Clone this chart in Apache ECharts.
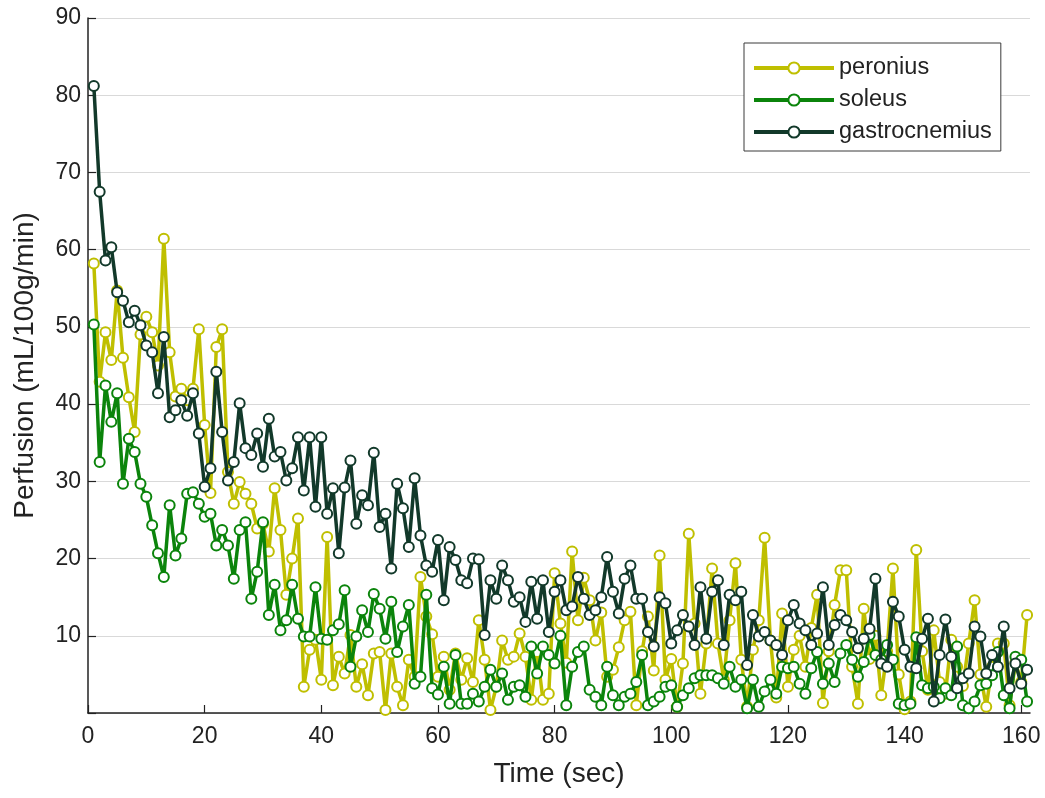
<!DOCTYPE html>
<html>
<head>
<meta charset="utf-8">
<script src="https://cdn.jsdelivr.net/npm/echarts@6/dist/echarts.min.js"></script>
<style>html,body{margin:0;padding:0;background:#fff}#c{width:1045px;height:798px}</style>
</head>
<body>
<div id="c"></div>
<script>
var seriesNames = ['peronius', 'soleus', 'gastrocnemius'];
var xTicks = [0, 20, 40, 60, 80, 100, 120, 140, 160];
var yTicks = [10, 20, 30, 40, 50, 60, 70, 80, 90];

var peronius = [
58.2,42.9,49.3,45.7,54.7,46.0,40.9,36.4,49.0,51.3,
49.3,45.0,61.4,46.7,41.0,42.0,40.5,42.0,49.7,37.3,
28.5,47.4,49.7,31.2,27.1,29.9,28.4,27.1,23.9,24.5,
20.9,29.1,23.7,15.3,20.0,25.2,3.4,8.2,9.5,4.3,
22.8,3.6,7.3,5.1,10.1,3.4,6.3,2.3,7.7,7.9,
0.4,7.7,3.4,1.0,6.9,4.7,17.6,12.5,10.2,4.7,
7.3,3.0,7.7,4.3,7.1,4.0,12.0,6.9,0.4,3.4,
9.4,6.9,7.3,10.3,7.3,1.7,7.9,1.7,2.5,18.1,
11.6,6.5,20.9,12.0,17.5,14.6,9.4,13.0,4.7,5.6,
8.5,12.0,13.1,1.0,8.0,12.5,5.5,20.4,4.3,7.0,
0.8,6.4,23.2,11.6,2.5,9.0,18.7,9.0,4.3,12.0,
19.4,6.9,0.8,8.2,12.0,22.7,9.4,2.0,12.9,3.4,
8.2,10.0,6.0,11.0,15.3,1.3,8.0,14.0,18.5,18.5,
6.0,1.2,13.5,7.0,10.0,2.3,8.0,18.7,5.0,0.5,
1.5,21.1,8.0,3.0,10.7,4.0,2.5,9.5,6.0,3.5,
9.0,14.6,5.0,0.8,6.0,9.0,9.0,1.0,6.5,4.0,
12.7
];

var soleus = [
50.3,32.5,42.4,37.7,41.4,29.7,35.5,33.8,29.7,28.0,
24.3,20.7,17.6,26.9,20.4,22.6,28.4,28.6,27.1,25.4,
25.8,21.7,23.7,21.7,17.4,23.7,24.7,14.8,18.3,24.7,
12.7,16.6,10.7,12.0,16.6,12.2,9.9,9.9,16.3,9.6,
9.5,10.7,11.5,15.9,6.0,9.9,13.3,10.5,15.4,13.5,
9.6,14.4,7.9,11.2,14.0,3.8,4.7,15.3,3.2,2.4,
6.0,1.2,7.5,1.2,1.2,2.5,1.5,3.4,5.6,3.4,
5.1,1.7,3.4,3.6,2.1,8.6,5.1,8.6,7.5,6.4,
10.0,1.0,6.0,7.9,8.6,3.0,2.1,1.0,6.0,2.3,
1.0,2.1,2.5,4.0,7.5,1.0,1.5,2.1,3.4,3.6,
0.8,2.3,3.2,4.5,4.9,4.9,4.9,4.5,3.8,6.0,
3.4,4.3,0.6,4.3,0.8,2.8,4.3,2.5,6.0,5.8,
6.0,3.8,2.5,5.8,7.9,3.8,6.4,4.0,7.7,8.8,
6.9,4.7,6.6,10.1,7.5,6.9,8.8,6.9,1.2,1.0,
1.2,9.8,3.6,3.2,3.4,1.9,3.2,2.3,8.6,1.0,
0.6,1.5,3.6,3.8,4.9,7.9,2.3,0.6,7.3,6.9,
1.5
];

var gastrocnemius = [
81.2,67.5,58.6,60.3,54.5,53.4,50.6,52.1,50.2,47.6,
46.7,41.4,48.7,38.3,39.2,40.5,38.5,41.4,36.2,29.3,
31.7,44.2,36.4,30.1,32.5,40.1,34.3,33.4,36.2,31.9,
38.1,33.2,33.8,30.1,31.7,35.7,28.8,35.7,26.7,35.7,
25.8,29.1,20.7,29.2,32.7,24.5,28.2,26.9,33.7,24.1,
25.8,18.7,29.7,26.5,21.5,30.4,23.0,19.1,18.3,22.4,
14.6,21.5,19.8,17.2,16.8,20.0,19.9,10.1,17.2,14.8,
19.1,17.2,14.4,15.0,11.8,17.0,12.2,17.2,10.5,15.7,
17.2,13.3,13.8,17.6,14.8,12.7,13.3,15.0,20.2,15.7,
12.9,17.4,19.1,14.8,14.8,10.5,8.6,15.0,14.2,9.0,
10.7,12.7,11.2,8.8,16.3,9.6,15.7,17.2,8.8,15.3,
14.6,15.7,6.2,12.7,9.9,10.5,9.4,8.8,7.5,12.0,
14.0,11.6,10.7,8.8,10.3,16.3,8.8,11.4,12.7,12.0,
10.5,8.4,9.6,10.9,17.4,6.4,6.0,14.4,12.5,8.2,
6.0,5.8,9.6,12.2,1.5,7.5,12.1,7.3,3.2,4.5,
5.1,11.2,9.9,5.1,7.5,6.0,11.2,3.2,6.4,3.8,
5.6
];

var colors = ['#bfbf00', '#0b840b', '#12392a'];

function pairs(vals) {
  var out = [];
  for (var i = 0; i < vals.length; i++) out.push([i + 1, vals[i]]);
  return out;
}

var allData = [peronius, soleus, gastrocnemius];
var textColor = '#222222';
var font = 'Liberation Sans, Arial, sans-serif';

var chart = echarts.init(document.getElementById('c'), null, {renderer: 'canvas'});
chart.setOption({
  animation: false,
  backgroundColor: '#fff',
  grid: {left: 88, right: 15, top: 18, bottom: 85, containLabel: false},
  xAxis: {
    type: 'value', min: 0, max: 161.5, interval: 20,
    name: 'Time (sec)', nameLocation: 'middle', nameGap: 47,
    nameTextStyle: {color: textColor, fontSize: 28, fontFamily: font},
    axisLine: {show: true, lineStyle: {color: textColor, width: 1.5}},
    axisTick: {show: true, inside: true, length: 8, lineStyle: {color: textColor, width: 1.2}},
    axisLabel: {color: textColor, fontSize: 23, fontFamily: font, margin: 12, showMaxLabel: false,
      formatter: function (v) { return xTicks.indexOf(v) >= 0 ? String(v) : ''; }},
    splitLine: {show: false}
  },
  yAxis: {
    type: 'value', min: 0, max: 90, interval: 10,
    name: 'Perfusion (mL/100g/min)', nameLocation: 'middle', nameGap: 49,
    nameTextStyle: {color: textColor, fontSize: 28, fontFamily: font},
    axisLine: {show: true, lineStyle: {color: textColor, width: 1.5}},
    axisTick: {show: true, inside: true, length: 8, lineStyle: {color: textColor, width: 1.2}},
    axisLabel: {color: textColor, fontSize: 23, fontFamily: font, margin: 7,
      formatter: function (v) { return yTicks.indexOf(v) >= 0 ? String(v) : ''; }},
    splitLine: {show: true, lineStyle: {color: '#d9d9d9', width: 1}}
  },
  legend: {
    orient: 'vertical', left: 744, top: 43,
    data: seriesNames,
    backgroundColor: '#fff', borderColor: '#3a3a3a', borderWidth: 1,
    padding: [13, 9, 7, 8],
    itemWidth: 80, itemHeight: 14, itemGap: 8,
    lineStyle: {width: 4},
    textStyle: {color: textColor, fontSize: 23.5, fontFamily: font}
  },
  series: seriesNames.map(function (n, k) {
    return {
      name: n, type: 'line', data: pairs(allData[k]),
      symbol: 'emptyCircle', symbolSize: 10,
      lineStyle: {color: colors[k], width: 3.5},
      itemStyle: {color: colors[k], borderColor: colors[k], borderWidth: 3},
      z: 2 + k
    };
  })
});
</script>
</body>
</html>
